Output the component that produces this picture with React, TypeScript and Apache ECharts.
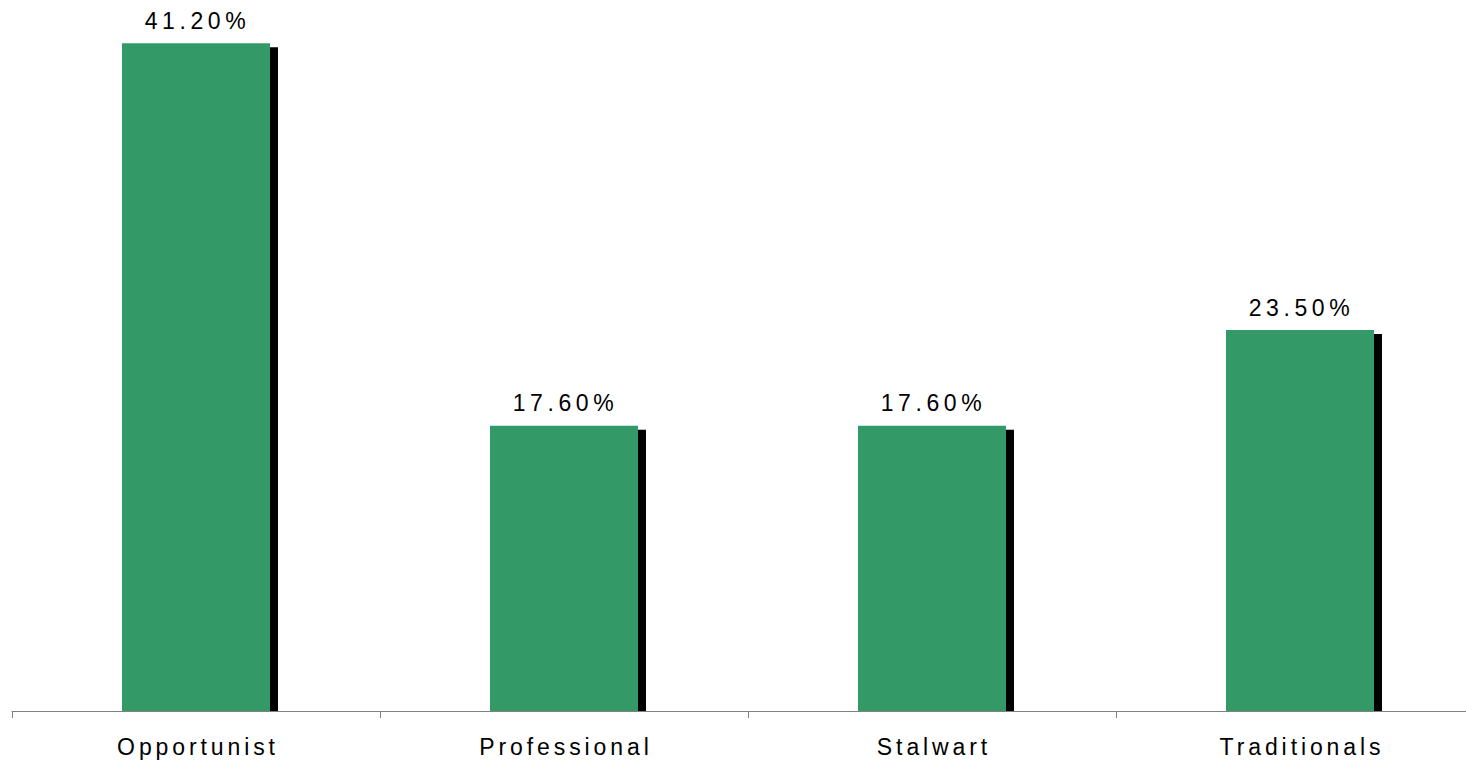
import React, { useEffect, useRef } from "react";
import * as echarts from "echarts";

const categories: string[] = ["Opportunist", "Professional", "Stalwart", "Traditionals"];
const shares: number[] = [41.2, 17.6, 17.6, 23.5];

const BAR_COLOR = "#339966";
const FONT = "'Liberation Sans', Arial, sans-serif";

function applySpacing(root: HTMLElement | null) {
  if (!root) return;
  const texts = root.querySelectorAll("text");
  texts.forEach((t) => {
    const s = (t.textContent || "").trim();
    const sp = s.endsWith("%") ? "4.6px" : "3.9px";
    (t as SVGTextElement).style.letterSpacing = sp;
  });
}

export default function App() {
  const ref = useRef<HTMLDivElement | null>(null);

  useEffect(() => {
    if (!ref.current) return;
    const chart = echarts.init(ref.current, undefined, { renderer: "svg" });
    const barWidth = 148;
    const option: any = {
      animation: false,
      backgroundColor: "#ffffff",
      grid: { left: 12, right: 0, top: 14, bottom: 53, containLabel: false },
      xAxis: {
        type: "category",
        data: categories,
        boundaryGap: true,
        axisLine: { show: true, lineStyle: { color: "#808080", width: 1 } },
        axisTick: { show: true, length: 7, alignWithLabel: false, lineStyle: { color: "#808080" } },
        axisLabel: {
          margin: 24,
          color: "#000",
          fontFamily: FONT,
          fontSize: 23,
          interval: 0,
          padding: [0, 0, 0, 4],
        },
        splitLine: { show: false },
      },
      yAxis: {
        type: "value",
        min: 0,
        max: 43,
        show: false,
        splitLine: { show: false },
      },
      series: [
        {
          type: "custom",
          z: 1,
          silent: true,
          data: shares.map((v, i) => [i, v]),
          renderItem: (params: any, api: any) => {
            const top = api.coord([api.value(0), api.value(1)]);
            const base = api.coord([api.value(0), 0]);
            const x = top[0] - barWidth / 2 + 8;
            const y = top[1] + 4;
            return {
              type: "rect",
              shape: { x, y, width: barWidth, height: base[1] - y },
              style: { fill: "#000000" },
            };
          },
        },
        {
          type: "bar",
          z: 2,
          data: shares,
          barWidth: barWidth,
          itemStyle: { color: BAR_COLOR },
          label: {
            show: true,
            position: "top",
            distance: 11,
            color: "#000",
            fontFamily: FONT,
            fontSize: 23,
            padding: [0, 0, 0, 3],
            formatter: (p: any) => p.value.toFixed(2) + "%",
          },
        },
      ],
    };
    chart.setOption(option);
    applySpacing(ref.current);
    chart.on("finished", () => applySpacing(ref.current));
    const t = window.setTimeout(() => applySpacing(ref.current), 50);
    return () => {
      window.clearTimeout(t);
      chart.dispose();
    };
  }, []);

  return (
    <div
      style={{ position: "fixed", left: 0, top: 0, width: 1466, height: 764, overflow: "hidden", background: "#fff" }}
    >
      <div ref={ref} style={{ width: 1484, height: 764 }} />
    </div>
  );
}
